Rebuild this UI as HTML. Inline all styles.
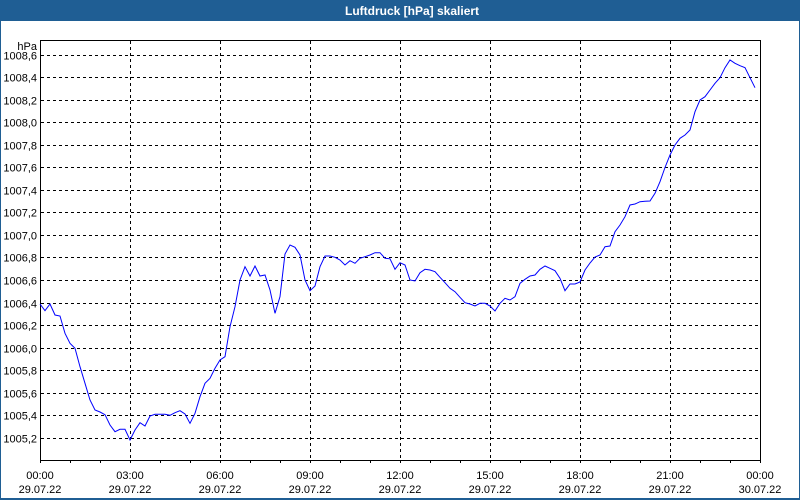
<!DOCTYPE html>
<html>
<head>
<meta charset="utf-8">
<style>
html,body{margin:0;padding:0;background:#fff;}
#c{position:relative;width:800px;height:500px;overflow:hidden;background:#fff;}
svg{position:absolute;left:0;top:0;}
text{font-family:"Liberation Sans",Arial,sans-serif;}
</style>
</head>
<body>
<div id="c">
<svg width="800" height="500" viewBox="0 0 800 500" xmlns="http://www.w3.org/2000/svg">
  <!-- frame -->
  <rect x="0" y="0" width="800" height="500" fill="#ffffff"/>
  <rect x="0" y="0" width="800" height="21" fill="#1f5e94"/>
  <rect x="0" y="0" width="1" height="500" fill="#1f5e94"/>
  <rect x="799" y="0" width="1" height="500" fill="#1f5e94"/>
  <rect x="0" y="498" width="800" height="2" fill="#1f5e94"/>
  <text x="345" y="15" font-size="12" font-weight="bold" fill="#ffffff">Luftdruck [hPa] skaliert</text>

  <!-- horizontal grid -->
  <g stroke="#000" stroke-width="1" stroke-dasharray="3,3" fill="none">
    <line x1="41" y1="55.5" x2="760" y2="55.5"/>
    <line x1="41" y1="77.5" x2="760" y2="77.5"/>
    <line x1="41" y1="100.5" x2="760" y2="100.5"/>
    <line x1="41" y1="122.5" x2="760" y2="122.5"/>
    <line x1="41" y1="145.5" x2="760" y2="145.5"/>
    <line x1="41" y1="167.5" x2="760" y2="167.5"/>
    <line x1="41" y1="190.5" x2="760" y2="190.5"/>
    <line x1="41" y1="212.5" x2="760" y2="212.5"/>
    <line x1="41" y1="235.5" x2="760" y2="235.5"/>
    <line x1="41" y1="257.5" x2="760" y2="257.5"/>
    <line x1="41" y1="280.5" x2="760" y2="280.5"/>
    <line x1="41" y1="303.5" x2="760" y2="303.5"/>
    <line x1="41" y1="325.5" x2="760" y2="325.5"/>
    <line x1="41" y1="348.5" x2="760" y2="348.5"/>
    <line x1="41" y1="370.5" x2="760" y2="370.5"/>
    <line x1="41" y1="393.5" x2="760" y2="393.5"/>
    <line x1="41" y1="415.5" x2="760" y2="415.5"/>
    <line x1="41" y1="438.5" x2="760" y2="438.5"/>
    <!-- vertical grid -->
    <line x1="130.5" y1="41" x2="130.5" y2="460"/>
    <line x1="220.5" y1="41" x2="220.5" y2="460"/>
    <line x1="310.5" y1="41" x2="310.5" y2="460"/>
    <line x1="400.5" y1="41" x2="400.5" y2="460"/>
    <line x1="490.5" y1="41" x2="490.5" y2="460"/>
    <line x1="580.5" y1="41" x2="580.5" y2="460"/>
    <line x1="670.5" y1="41" x2="670.5" y2="460"/>
  </g>

  <!-- axes box -->
  <rect x="40.5" y="40.5" width="720" height="420" fill="none" stroke="#000" stroke-width="1"/>

  <!-- bottom ticks every hour -->
  <g stroke="#000" stroke-width="1">
    <line x1="40.5" y1="461" x2="40.5" y2="463"/>
    <line x1="70.5" y1="461" x2="70.5" y2="463"/>
    <line x1="100.5" y1="461" x2="100.5" y2="463"/>
    <line x1="130.5" y1="461" x2="130.5" y2="463"/>
    <line x1="160.5" y1="461" x2="160.5" y2="463"/>
    <line x1="190.5" y1="461" x2="190.5" y2="463"/>
    <line x1="220.5" y1="461" x2="220.5" y2="463"/>
    <line x1="250.5" y1="461" x2="250.5" y2="463"/>
    <line x1="280.5" y1="461" x2="280.5" y2="463"/>
    <line x1="310.5" y1="461" x2="310.5" y2="463"/>
    <line x1="340.5" y1="461" x2="340.5" y2="463"/>
    <line x1="370.5" y1="461" x2="370.5" y2="463"/>
    <line x1="400.5" y1="461" x2="400.5" y2="463"/>
    <line x1="430.5" y1="461" x2="430.5" y2="463"/>
    <line x1="460.5" y1="461" x2="460.5" y2="463"/>
    <line x1="490.5" y1="461" x2="490.5" y2="463"/>
    <line x1="520.5" y1="461" x2="520.5" y2="463"/>
    <line x1="550.5" y1="461" x2="550.5" y2="463"/>
    <line x1="580.5" y1="461" x2="580.5" y2="463"/>
    <line x1="610.5" y1="461" x2="610.5" y2="463"/>
    <line x1="640.5" y1="461" x2="640.5" y2="463"/>
    <line x1="670.5" y1="461" x2="670.5" y2="463"/>
    <line x1="700.5" y1="461" x2="700.5" y2="463"/>
    <line x1="730.5" y1="461" x2="730.5" y2="463"/>
    <line x1="760.5" y1="461" x2="760.5" y2="463"/>
  </g>

  <!-- y labels -->
  <g font-size="11" fill="#000" text-anchor="end">
    <text x="37" y="50">hPa</text>
    <text x="37" y="59.5">1008,6</text>
    <text x="37" y="81.5">1008,4</text>
    <text x="37" y="104.5">1008,2</text>
    <text x="37" y="126.5">1008,0</text>
    <text x="37" y="149.5">1007,8</text>
    <text x="37" y="171.5">1007,6</text>
    <text x="37" y="194.5">1007,4</text>
    <text x="37" y="216.5">1007,2</text>
    <text x="37" y="239.5">1007,0</text>
    <text x="37" y="261.5">1006,8</text>
    <text x="37" y="284.5">1006,6</text>
    <text x="37" y="307.5">1006,4</text>
    <text x="37" y="329.5">1006,2</text>
    <text x="37" y="352.5">1006,0</text>
    <text x="37" y="374.5">1005,8</text>
    <text x="37" y="397.5">1005,6</text>
    <text x="37" y="419.5">1005,4</text>
    <text x="37" y="442.5">1005,2</text>
  </g>

  <!-- x labels -->
  <g font-size="11" fill="#000" text-anchor="middle">
    <text x="40" y="479">00:00</text><text x="40" y="493">29.07.22</text>
    <text x="130" y="479">03:00</text><text x="130" y="493">29.07.22</text>
    <text x="220" y="479">06:00</text><text x="220" y="493">29.07.22</text>
    <text x="310" y="479">09:00</text><text x="310" y="493">29.07.22</text>
    <text x="400" y="479">12:00</text><text x="400" y="493">29.07.22</text>
    <text x="490" y="479">15:00</text><text x="490" y="493">29.07.22</text>
    <text x="580" y="479">18:00</text><text x="580" y="493">29.07.22</text>
    <text x="670" y="479">21:00</text><text x="670" y="493">29.07.22</text>
    <text x="760" y="479">00:00</text><text x="760" y="493">30.07.22</text>
  </g>

  <!-- data series -->
  <polyline fill="none" stroke="#0000ff" stroke-width="1" points="
40,304 45,310.7 50,304 55,315 60,316 65,333.3 70,343.3 75,348.3 80,366.7 85,383.3
90,400 95,410 100,412 105,414.7 110,425 115,431.7 120,429.3 125,429.3 130,440 135,430
140,422.7 145,426 150,416 155,414.3 160,414.3 165,414.3 170,415.3 175,412.7 180,410.7 185,414
190,423.3 195,413.3 200,396.7 205,383.3 210,378.3 215,368.3 220,360 225,356.7 230,326.7 235,306.7
240,280 245,266.7 250,276 255,266 260,276 265,275 270,290 275,313.3 280,296.7 285,254
290,245 295,247.3 300,255 305,280 310,290.7 315,286 320,266.7 325,256 330,256 335,257.3
340,260 345,265 350,260.7 355,263.3 360,258.3 365,256.7 370,255 375,252.7 380,252.7 385,258.3
390,258.8 395,269.3 400,262.7 405,265 410,280 415,281 420,272.7 425,269.3 430,270 435,271.7
440,277.3 445,282.7 450,288.3 455,291.7 460,297.3 465,302.7 470,304 475,306 480,303.3 485,303.3
490,306 495,311 500,303.3 505,298.3 510,300 515,296.7 520,283.3 525,279.3 530,276 535,275
540,269.3 545,266 550,268.3 555,270.7 560,278.3 565,290.7 570,284 575,284 580,282 585,270
590,263 595,257 600,255 605,246.7 610,246 615,231.7 620,225 625,216.7 630,205 635,204
640,201.7 645,201.3 650,201 655,193.3 660,181.7 665,167.5 670,155 675,145 680,138.3 685,135
690,130 695,111.7 700,100 705,96.7 710,90 715,83.3 720,77.7 725,67.7 730,60 735,63.3
740,65.7 745,67.7 750,77.7 755,87.7"/>
</svg>
</div>
</body>
</html>
